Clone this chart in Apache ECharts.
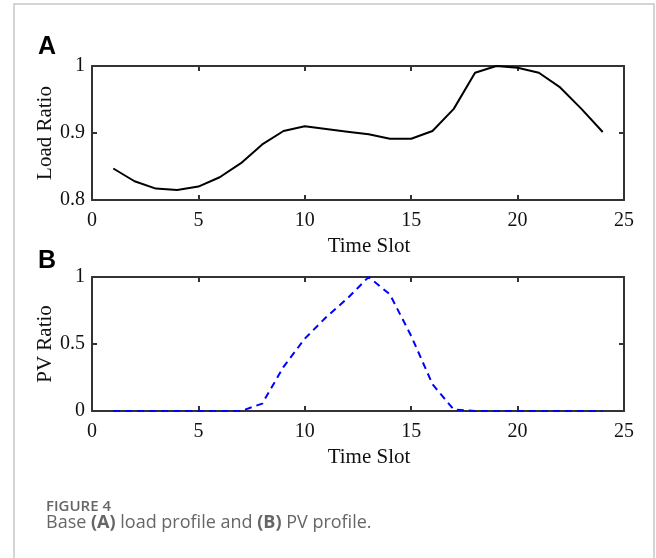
<!DOCTYPE html>
<html><head><meta charset="utf-8">
<script src="https://cdn.jsdelivr.net/npm/echarts@6/dist/echarts.min.js"></script>
<style>html,body{margin:0;padding:0;background:#fff}#c{width:656px;height:558px}</style>
</head><body><div id="c"></div>
<script>
// ---- data ----
const timeSlots = [1,2,3,4,5,6,7,8,9,10,11,12,13,14,15,16,17,18,19,20,21,22,23,24];
const loadRatio = [0.847,0.828,0.817,0.815,0.820,0.834,0.855,0.883,0.903,0.910,0.906,0.902,0.898,0.8915,0.8915,0.903,0.936,0.990,1.0,0.9975,0.990,0.968,0.936,0.9015];
const pvRatio = [0,0,0,0,0,0,0,0.055,0.33,0.54,0.70,0.84,1.0,0.87,0.56,0.2,0.01,0,0,0,0,0,0,0];
const xTicks = [0,5,10,15,20,25];
const loadTicks = [0.8,0.9,1];
const pvTicks = [0,0.5,1];
const panelLabels = ['A','B'];
const xName = 'Time Slot';
const yNames = ['Load Ratio','PV Ratio'];
const captionTitle = 'FIGURE 4';

// ---- build ----
const serif = 'Liberation Serif';
const axisColor = '#333';
const grids = [
  {left:92, top:66, width:532, height:134},
  {left:92, top:277, width:532, height:134}
];
function ticksCfg(t){ return {min:t[0], max:t[t.length-1], interval:t[1]-t[0]}; }
function fmt(v){ return String(Math.round(v*100)/100); }
const xAxes = [], yAxes = [];
[0,1].forEach(g => {
  const xt = ticksCfg(xTicks);
  const yt = ticksCfg(g===0 ? loadTicks : pvTicks);
  xAxes.push(Object.assign({
    type:'value', gridIndex:g, position:'bottom',
    name:xName, nameLocation:'middle', nameGap:36,
    nameTextStyle:{fontFamily:serif, fontSize:21, color:'#111', padding:[0,0,0,22]},
    axisLine:{show:true, onZero:false, lineStyle:{color:axisColor, width:2}},
    axisTick:{show:true, inside:true, length:5, lineStyle:{color:axisColor, width:2}},
    axisLabel:{fontFamily:serif, fontSize:20, color:'#111', margin:11, formatter:fmt},
    splitLine:{show:false}
  }, xt));
  xAxes.push(Object.assign({
    type:'value', gridIndex:g, position:'top',
    axisLine:{show:true, onZero:false, lineStyle:{color:axisColor, width:2}},
    axisTick:{show:true, inside:true, length:5, lineStyle:{color:axisColor, width:2}},
    axisLabel:{show:false}, splitLine:{show:false}
  }, xt));
  yAxes.push(Object.assign({
    type:'value', gridIndex:g, position:'left',
    name:yNames[g], nameLocation:'middle', nameGap:36, nameMoveOverlap:false,
    nameTextStyle:{fontFamily:serif, fontSize:21, color:'#111'},
    axisLine:{show:true, onZero:false, lineStyle:{color:axisColor, width:2}},
    axisTick:{show:true, inside:true, length:5, lineStyle:{color:axisColor, width:2}},
    axisLabel:{fontFamily:serif, fontSize:20, color:'#111', margin:7, formatter:fmt},
    splitLine:{show:false}
  }, yt));
  yAxes.push(Object.assign({
    type:'value', gridIndex:g, position:'right',
    axisLine:{show:true, onZero:false, lineStyle:{color:axisColor, width:2}},
    axisTick:{show:true, inside:true, length:5, lineStyle:{color:axisColor, width:2}},
    axisLabel:{show:false}, splitLine:{show:false}
  }, yt));
});

const option = {
  animation:false,
  backgroundColor:'#fff',
  grid:grids,
  xAxis:xAxes,
  yAxis:yAxes,
  series:[
    {type:'line', xAxisIndex:0, yAxisIndex:0, data:timeSlots.map((t,i)=>[t,loadRatio[i]]),
     showSymbol:false, symbol:'none', clip:false, lineStyle:{color:'#000', width:2}},
    {type:'line', xAxisIndex:2, yAxisIndex:2, data:timeSlots.map((t,i)=>[t,pvRatio[i]]),
     showSymbol:false, symbol:'none', clip:false, lineStyle:{color:'#0000ff', width:2, type:[7,5]}}
  ],
  graphic:[
    {type:'rect', shape:{x:14, y:4, width:640, height:600}, style:{fill:null, stroke:'#c8c8c8', lineWidth:1.5}, silent:true},
    {type:'text', x:38, y:47, style:{text:panelLabels[0], font:'bold 25px "Liberation Sans"', fill:'#000', verticalAlign:'middle'}},
    {type:'text', x:38, y:261, style:{text:panelLabels[1], font:'bold 25px "Liberation Sans"', fill:'#000', verticalAlign:'middle'}},
    {type:'text', x:46, y:507, style:{text:captionTitle, font:'600 15px "Open Sans"', fill:'#666', verticalAlign:'middle'}},
    {type:'text', x:46, y:523, style:{
      text:'Base {b|(A)} load profile and {b|(B)} PV profile.',
      font:'18px "Open Sans"', fill:'#666', verticalAlign:'middle',
      rich:{b:{fontFamily:'Open Sans', fontSize:18, fontWeight:'bold', fill:'#666'}}
    }}
  ]
};
const chart = echarts.init(document.getElementById('c'), null, {renderer:'canvas'});
chart.setOption(option);
</script>
</body></html>
